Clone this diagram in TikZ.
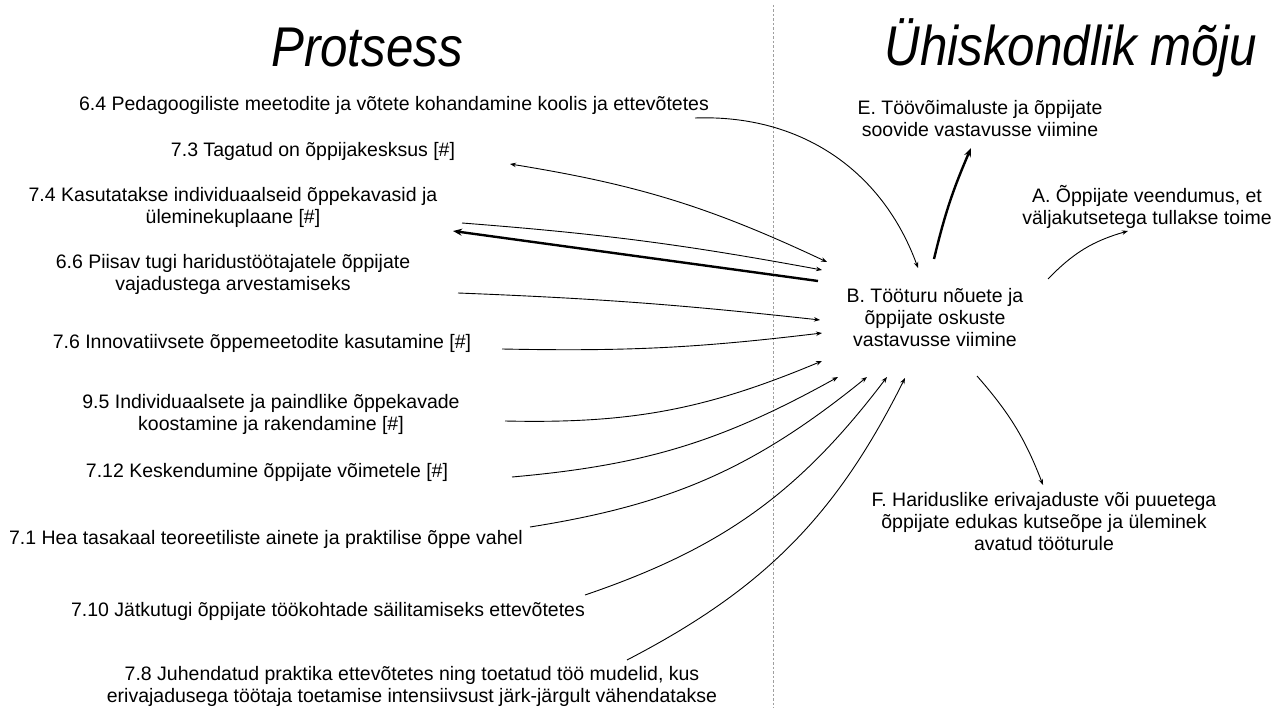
\documentclass[tikz,border=0pt]{standalone}
\usepackage{fontspec}
\setmainfont{Liberation Sans}
\newfontfamily\headfont[FakeStretch=0.88]{Liberation Sans}
\usetikzlibrary{arrows.meta}
\begin{document}
\begin{tikzpicture}[x=1pt,y=-1pt,
  txt/.style={font=\fontsize{19.5}{22}\selectfont, align=center, inner sep=0pt},
  ttl/.style={font=\headfont\fontsize{56}{60}\selectfont\itshape, inner sep=0pt},
  divider/.style={gray!75, line width=1pt, dash pattern=on 2.5pt off 2pt},
  link/.style={line width=0.9pt, -{Stealth[length=6pt,width=4.5pt]}},
  linkboth/.style={line width=0.9pt, {Stealth[length=6pt,width=4.5pt]}-{Stealth[length=6pt,width=4.5pt]}},
  strong/.style={line width=2.4pt, -{Stealth[length=9pt,width=7pt]}},
]
\useasboundingbox (0,0) rectangle (1283,708);

% column headings and divider
\node[ttl] (tP) at (367,48) {Protsess};
\node[ttl] (tU) at (1071,48) {Ühiskondlik mõju};
\coordinate (dtop) at (773,5);
\coordinate (dbot) at (773,708);
\draw[divider] (dtop) -- (dbot);

% process items
\node[txt] (p64) at (394,105) {6.4 Pedagoogiliste meetodite ja võtete kohandamine koolis ja ettevõtetes};
\node[txt] (p73) at (313,151) {7.3 Tagatud on õppijakesksus [\#]};
\node[txt] (p74) at (233,207) {7.4 Kasutatakse individuaalseid õppekavasid ja\\üleminekuplaane [\#]};
\node[txt] (p66) at (233,274) {6.6 Piisav tugi haridustöötajatele õppijate\\vajadustega arvestamiseks};
\node[txt] (p76) at (262,343) {7.6 Innovatiivsete õppemeetodite kasutamine [\#]};
\node[txt] (p95) at (271,414) {9.5 Individuaalsete ja paindlike õppekavade\\koostamine ja rakendamine [\#]};
\node[txt] (p712) at (267,472) {7.12 Keskendumine õppijate võimetele [\#]};
\node[txt] (p71) at (266,539) {7.1 Hea tasakaal teoreetiliste ainete ja praktilise õppe vahel};
\node[txt] (p710) at (328,611) {7.10 Jätkutugi õppijate töökohtade säilitamiseks ettevõtetes};
\node[txt] (p78) at (412,686) {7.8 Juhendatud praktika ettevõtetes ning toetatud töö mudelid, kus\\erivajadusega töötaja toetamise intensiivsust järk-järgult vähendatakse};

% societal outcomes
\node[txt] (oE) at (980,119) {E. Töövõimaluste ja õppijate\\soovide vastavusse viimine};
\node[txt] (oA) at (1147,207) {A. Õppijate veendumus, et\\väljakutsetega tullakse toime};
\node[txt] (oB) at (935,318) {B. Tööturu nõuete ja\\õppijate oskuste\\vastavusse viimine};
\node[txt] (oF) at (1044,522) {F. Hariduslike erivajaduste või puuetega\\õppijate edukas kutseõpe ja üleminek\\avatud tööturule};

% connector end points
\coordinate (s64) at (695,118);  \coordinate (e64) at (918,268);
\coordinate (a73) at (510,164);  \coordinate (b73) at (827,262);
\coordinate (s74) at (462,223);  \coordinate (e74) at (822,270);
\coordinate (b74) at (818,281);  \coordinate (a74) at (453,231);
\coordinate (s66) at (458,293);  \coordinate (e66) at (820,320);
\coordinate (s76) at (502,349);  \coordinate (e76) at (822,333);
\coordinate (s95) at (505,421);  \coordinate (e95) at (822,361);
\coordinate (s712) at (512,477); \coordinate (e712) at (838,377);
\coordinate (s71) at (530,527);  \coordinate (e71) at (867,377);
\coordinate (s710) at (585,595); \coordinate (e710) at (887,377);
\coordinate (s78) at (627,660);  \coordinate (e78) at (905,378);
\coordinate (bE) at (934,259);   \coordinate (hE) at (971,148);
\coordinate (bA) at (1048,279);  \coordinate (hA) at (1128,231);
\coordinate (bF) at (977,376);   \coordinate (hF) at (1043,485);

% process -> B
\draw[link] (s64) to[bend left=36] (e64);
\draw[linkboth] (a73) to[bend left=8] (b73);
\draw[link] (s74) to[bend left=3] (e74);
\draw[strong] (b74) -- (a74);
\draw[link] (s66) to[bend left=2] (e66);
\draw[link] (s76) to[bend right=4] (e76);
\draw[link] (s95) to[bend right=12] (e95);
\draw[link] (s712) to[bend right=12] (e712);
\draw[link] (s71) to[bend right=15] (e71);
\draw[link] (s710) to[bend right=17] (e710);
\draw[link] (s78) to[bend right=18] (e78);

% B -> outcomes
\draw[strong] (bE) to[bend left=5] (hE);
\draw[link] (bA) to[bend left=15] (hA);
\draw[link] (bF) to[bend left=10] (hF);
\end{tikzpicture}
\end{document}
